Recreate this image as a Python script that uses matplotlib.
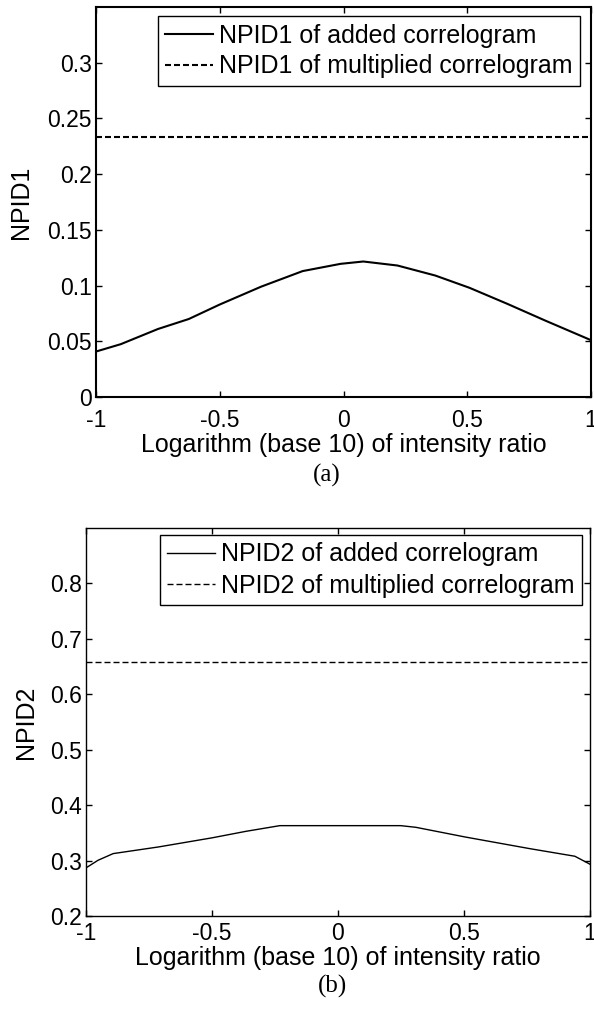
import matplotlib
matplotlib.use("Agg")
import matplotlib.pyplot as plt
from matplotlib.ticker import FuncFormatter

plt.rcParams['font.family'] = ['Liberation Sans', 'DejaVu Sans']

# panel (a): NPID1
x_a = [-1.0, -0.9, -0.75, -0.625, -0.5, -0.333, -0.165, -0.012, 0.08, 0.218, 0.371, 0.509, 0.663, 0.816, 1.0]
npid1_added = [0.0408, 0.0474, 0.061, 0.070, 0.083, 0.099, 0.113, 0.1195, 0.1216, 0.118, 0.109, 0.098, 0.0835, 0.0685, 0.051]
npid1_mult = 0.233

# panel (b): NPID2
x_b = [-1.0, -0.952, -0.892, -0.712, -0.5, -0.366, -0.231, 0.249, 0.309, 0.505, 0.76, 0.94, 1.0]
npid2_added = [0.2868, 0.3006, 0.3126, 0.3246, 0.341, 0.3527, 0.363, 0.363, 0.360, 0.3425, 0.3216, 0.3078, 0.2934]
npid2_mult = 0.658

xticks = [-1, -0.5, 0, 0.5, 1]
yticks_a = [0, 0.05, 0.1, 0.15, 0.2, 0.25, 0.3]
yticks_b = [0.2, 0.3, 0.4, 0.5, 0.6, 0.7, 0.8]

W, H = 594, 1011
fig = plt.figure(figsize=(W / 100, H / 100), dpi=100)

def box(l, t, r, b):
    return [l / W, 1 - b / H, (r - l) / W, (b - t) / H]

fmt = FuncFormatter(lambda v, p: '%g' % v)

def panel(ax, x, y, mult, ylim, yticks, name, lw, xpad, ylab_x, leg_box):
    lw_px = lw * 100 / 72.0
    ax.plot(x, y, color='black', lw=lw, label=name + ' of added correlogram')
    ax.axhline(mult, color='black', lw=lw, ls=(0, (6 / lw_px, 3 / lw_px)),
               label=name + ' of multiplied correlogram')
    ax.set_xlim(-1, 1)
    ax.set_ylim(*ylim)
    ax.set_xticks(xticks)
    ax.set_yticks(yticks)
    ax.xaxis.set_major_formatter(fmt)
    ax.yaxis.set_major_formatter(fmt)
    ax.tick_params(direction='in', length=4, width=1, labelsize=16.5, top=True, right=True)
    ax.tick_params(axis='x', pad=xpad)
    ax.tick_params(axis='y', pad=3)
    for s in ax.spines.values():
        s.set_linewidth(lw)
    ax.set_xlabel('Logarithm (base 10) of intensity ratio', fontsize=18, labelpad=1)
    ax.set_ylabel(name, fontsize=18)
    pos = ax.get_position()
    ax.yaxis.set_label_coords((ylab_x / W - pos.x0) / pos.width, 0.5)
    leg = ax.legend(loc='upper right', bbox_to_anchor=(leg_box[0] / W, 1 - leg_box[1] / H),
                    bbox_transform=fig.transFigure, fontsize=18, fancybox=False,
                    edgecolor='black', framealpha=1, handlelength=1.9, handletextpad=0.25,
                    borderpad=0.3, labelspacing=0.28, borderaxespad=0)
    leg.get_frame().set_linewidth(1.0)

ax1 = fig.add_axes(box(96, 7, 591, 397))
panel(ax1, x_a, npid1_added, npid1_mult, (0, 0.35), yticks_a, 'NPID1', 1.5, 8.5, 33, (580, 16))
fig.text(327 / W, 1 - 475 / H, '(a)', ha='center', va='center', fontsize=18,
         family=['Liberation Serif', 'DejaVu Serif'])

ax2 = fig.add_axes(box(86, 528, 590, 916))
panel(ax2, x_b, npid2_added, npid2_mult, (0.2, 0.9), yticks_b, 'NPID2', 1.0, 4.3, 38, (582, 535))
fig.text(333 / W, 1 - 986 / H, '(b)', ha='center', va='center', fontsize=18,
         family=['Liberation Serif', 'DejaVu Serif'])

fig.savefig('out.png', dpi=100)
